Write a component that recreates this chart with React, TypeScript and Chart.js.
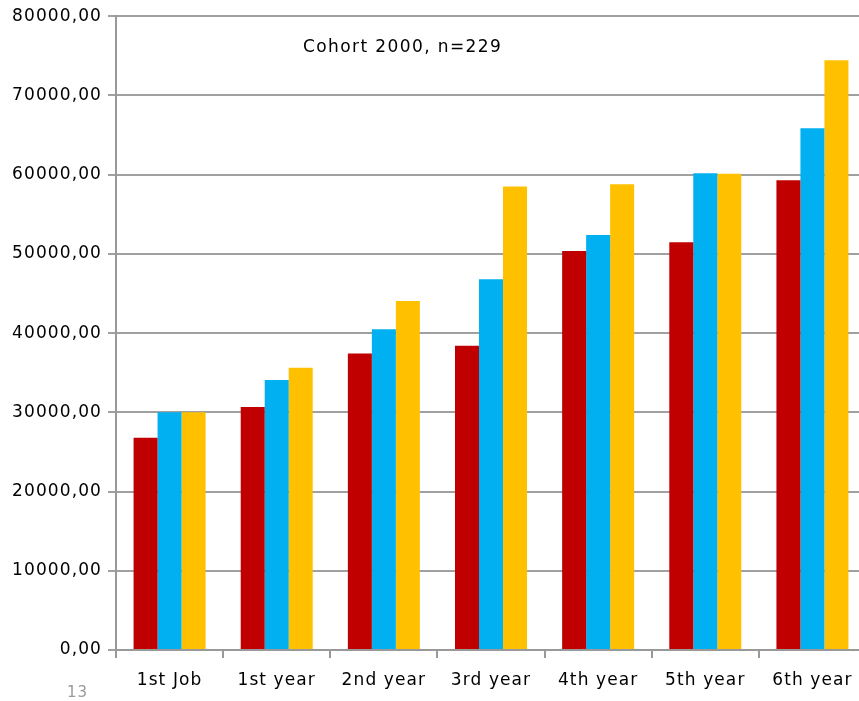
import React, { useEffect, useRef } from "react";
import { Chart, registerables } from "chart.js";

Chart.register(...registerables);

const categories = ["1st Job", "1st year", "2nd year", "3rd year", "4th year", "5th year", "6th year"];
const seriesA = [26780, 30660, 37440, 38400, 50350, 51480, 59300];
const seriesB = [30000, 34070, 40500, 46810, 52370, 60190, 65870];
const seriesC = [30000, 35620, 44040, 58510, 58800, 60100, 74450];
const titleText = "Cohort 2000, n=229";
const pageNumber = "13";

const FONT = "'DejaVu Sans', Verdana, sans-serif";

const spacingPlugin = {
  id: "letterSpacing",
  beforeDraw(chart: any) {
    (chart.ctx as any).letterSpacing = "1.1px";
  },
};

const titlePlugin = {
  id: "innerTitle",
  afterDraw(chart: any) {
    const { ctx, chartArea } = chart;
    ctx.save();
    (ctx as any).letterSpacing = "1.4px";
    ctx.font = `17px ${FONT}`;
    ctx.fillStyle = "#000";
    ctx.textAlign = "left";
    ctx.textBaseline = "middle";
    ctx.fillText(titleText, chartArea.left + 187, chartArea.top + 31);
    ctx.restore();
  },
};

export default function App() {
  const ref = useRef<HTMLCanvasElement>(null);
  useEffect(() => {
    document.body.style.margin = "0";
    document.body.style.overflow = "hidden";
    const chart = new Chart(ref.current!, {
      type: "bar",
      data: {
        labels: categories,
        datasets: [
          { data: seriesA, backgroundColor: "#C00000" },
          { data: seriesB, backgroundColor: "#00B0F0" },
          { data: seriesC, backgroundColor: "#FFC000" },
        ],
      },
      options: {
        responsive: false,
        animation: false,
        layout: { padding: { top: 16, right: 1, left: 0, bottom: 0 } },
        plugins: { legend: { display: false }, tooltip: { enabled: false } },
        datasets: { bar: { categoryPercentage: 0.672, barPercentage: 1.0 } },
        scales: {
          x: {
            grid: { drawOnChartArea: false, drawTicks: true, tickLength: 8, color: "#999", lineWidth: 2, offset: true },
            border: { color: "#999", width: 2 },
            ticks: { color: "#000", font: { family: FONT, size: 17 }, padding: 12, maxRotation: 0 },
            afterFit: (s: any) => { s.height = 51; },
          },
          y: {
            min: 0,
            max: 80000,
            grid: { color: "#a0a0a0", lineWidth: 2, tickLength: 8 },
            border: { color: "#999", width: 2 },
            ticks: {
              stepSize: 10000,
              color: "#000",
              font: { family: FONT, size: 17 },
              padding: 6,
              callback: (v: any) => Number(v).toFixed(2).replace(".", ","),
            },
            afterFit: (s: any) => { s.width = 116; },
          },
        },
      },
      plugins: [spacingPlugin, titlePlugin],
    });
    return () => chart.destroy();
  }, []);
  return (
    <div style={{ position: "fixed", left: 0, top: 0, width: 859, height: 701, overflow: "hidden", background: "#fff" }}>
      <canvas ref={ref} width={867} height={701} style={{ display: "block" }} />
      <div style={{ position: "absolute", left: 67, top: 683, fontFamily: FONT, fontSize: 15, color: "#999", lineHeight: "18px", letterSpacing: "1px" }}>
        {pageNumber}
      </div>
    </div>
  );
}
